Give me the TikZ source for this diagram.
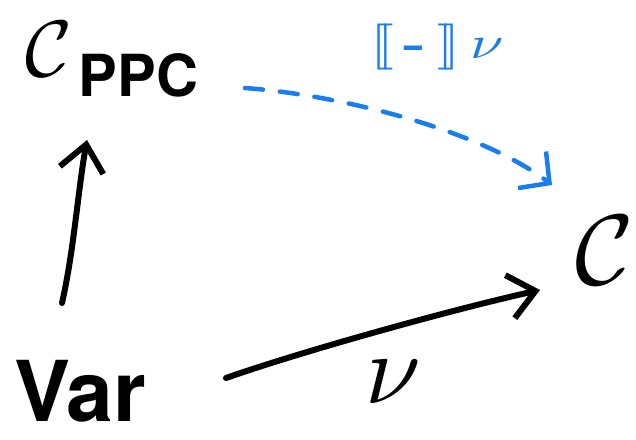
\documentclass[tikz,border=0pt]{standalone}
\usepackage{fontspec}
\setsansfont{TeX Gyre Heros}
\usetikzlibrary{arrows.meta}
\definecolor{penblue}{RGB}{25,125,240}
\begin{document}
\begin{tikzpicture}[x=1pt,y=-1pt,line cap=round,line join=round,
  lbl/.style={inner sep=0pt,text=black},
  arr/.style={line width=6pt,draw=black,-{Straight Barb[length=26pt,width=44pt,line width=6pt]}},
  semarr/.style={line width=4.5pt,draw=penblue,dash pattern=on 18pt off 17pt,
     -{Straight Barb[length=22pt,width=46pt,line width=4.5pt,sep=0pt]}}]
\useasboundingbox (0,0) rectangle (636,439);
% nodes
\node[lbl] (cppc) at (112,60) {\scalebox{8}{$\mathcal{C}$}\hspace{6pt}\raisebox{-20pt}{\fontsize{58}{58}\selectfont\sffamily\bfseries PPC}};
\node[lbl] (c) at (605,250) {\scalebox{10}{$\mathcal{C}$}};
\node[lbl] (var) at (80,391) {\fontsize{84}{84}\selectfont\sffamily\bfseries Var};
% connector end points
\coordinate (varup) at (62,303);
\coordinate (cppcdown) at (87,140);
\coordinate (varright) at (226,378);
\coordinate (cleft) at (540,290);
\coordinate (cppcright) at (245,88);
\coordinate (cupper) at (552,185);
% connectors
\draw[arr] (varup) .. controls (74,250) and (78,190) .. (cppcdown);
\draw[arr] (varright) .. controls (300,352) and (450,310) .. (cleft);
\node[lbl] (nu) at (393,382) {\scalebox{10}{$\nu$}};
\draw[semarr] (cppcright) .. controls (340,95) and (480,130) .. (cupper);
\node[lbl,text=penblue] (sem) at (437,47) {\scalebox{6}[4.6]{$[\![\,\mbox{\bfseries-}\,]\!]\,\nu$}};
\end{tikzpicture}
\end{document}
